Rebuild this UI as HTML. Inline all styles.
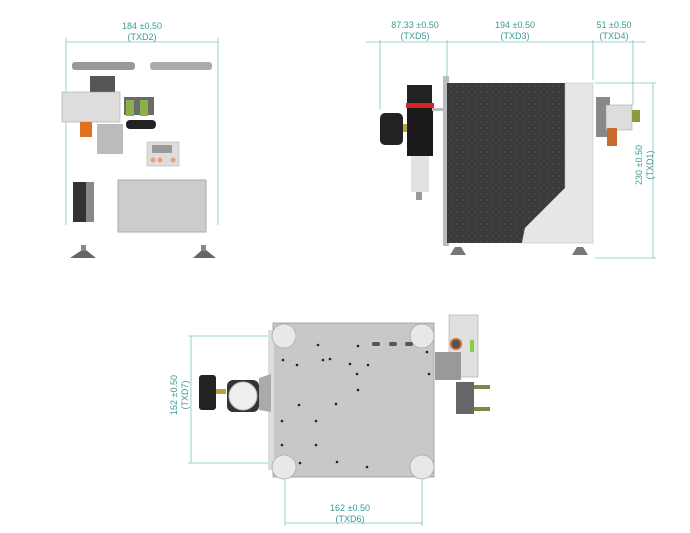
<!DOCTYPE html>
<html><head><style>
html,body{margin:0;padding:0;background:#fff;}
svg{display:block}
text{font-family:"Liberation Sans",sans-serif;fill:#3a9a94;font-size:9px;}
</style></head><body>
<svg width="690" height="533" viewBox="0 0 690 533" xmlns="http://www.w3.org/2000/svg">
<defs>
<pattern id="spk" width="6" height="6" patternUnits="userSpaceOnUse">
<rect width="6" height="6" fill="#3a3a3a"/><circle cx="1" cy="2" r="0.6" fill="#666"/><circle cx="4" cy="5" r="0.5" fill="#555"/>
</pattern>
</defs>
<g stroke="#7cc4bf" stroke-width="0.8" fill="none">
<!-- front view dims -->
<line x1="66" y1="42" x2="218" y2="42"/><line x1="66" y1="38" x2="66" y2="225"/><line x1="218" y1="38" x2="218" y2="225"/>
<!-- side dims -->
<line x1="366" y1="42" x2="646" y2="42"/><line x1="380" y1="40" x2="380" y2="110"/><line x1="447" y1="40" x2="447" y2="80"/><line x1="593" y1="40" x2="593" y2="80"/><line x1="633" y1="40" x2="633" y2="105"/>
<line x1="653" y1="83" x2="653" y2="258"/><line x1="595" y1="83" x2="656" y2="83"/><line x1="595" y1="258" x2="656" y2="258"/>
<!-- bottom dims -->
<line x1="191" y1="336" x2="191" y2="463"/><line x1="188" y1="336" x2="284" y2="336"/><line x1="188" y1="463" x2="284" y2="463"/>
<line x1="285" y1="523" x2="422" y2="523"/><line x1="285" y1="467" x2="285" y2="526"/><line x1="422" y1="467" x2="422" y2="526"/>
</g>
<text x="142" y="29" text-anchor="middle">184 ±0.50</text><text x="142" y="40" text-anchor="middle">(TXD2)</text>
<text x="415" y="28" text-anchor="middle">87.33 ±0.50</text><text x="415" y="39" text-anchor="middle">(TXD5)</text>
<text x="515" y="28" text-anchor="middle">194 ±0.50</text><text x="515" y="39" text-anchor="middle">(TXD3)</text>
<text x="614" y="28" text-anchor="middle">51 ±0.50</text><text x="614" y="39" text-anchor="middle">(TXD4)</text>
<g transform="translate(642,165) rotate(-90)"><text x="0" y="0" text-anchor="middle">230 ±0.50</text><text x="0" y="11" text-anchor="middle">(TXD1)</text></g>
<g transform="translate(177,395) rotate(-90)"><text x="0" y="0" text-anchor="middle">152 ±0.50</text><text x="0" y="11" text-anchor="middle">(TXD7)</text></g>
<text x="350" y="511" text-anchor="middle">162 ±0.50</text><text x="350" y="522" text-anchor="middle">(TXD6)</text>

<!-- FRONT VIEW -->
<rect x="72" y="62" width="63" height="8" rx="3" fill="#999"/><rect x="150" y="62" width="62" height="8" rx="3" fill="#aaa"/>
<rect x="90" y="76" width="25" height="20" fill="#555"/>
<rect x="62" y="92" width="58" height="30" fill="#ddd" stroke="#999" stroke-width="0.5"/>
<rect x="124" y="97" width="30" height="18" fill="#6a6a6a"/>
<rect x="126" y="100" width="8" height="16" fill="#8ab04a"/><rect x="140" y="100" width="8" height="16" fill="#8ab04a"/>
<rect x="126" y="120" width="30" height="9" rx="4" fill="#222"/>
<rect x="80" y="122" width="12" height="15" fill="#e07020"/>
<rect x="97" y="124" width="26" height="30" fill="#bbb"/>
<rect x="147" y="142" width="32" height="24" fill="#ddd" stroke="#aaa" stroke-width="0.5"/>
<rect x="152" y="145" width="20" height="8" fill="#999"/>
<circle cx="153" cy="160" r="2.5" fill="#f09a80"/><circle cx="160" cy="160" r="2.5" fill="#f09a80"/><circle cx="173" cy="160" r="2.5" fill="#f09a80"/>
<rect x="73" y="182" width="20" height="40" fill="#333"/><rect x="86" y="182" width="8" height="40" fill="#888"/>
<rect x="118" y="180" width="88" height="52" fill="#ccc" stroke="#aaa"/>
<path d="M70 258 L82 250 L86 250 L96 258 Z" fill="#666"/><rect x="81" y="245" width="5" height="6" fill="#888"/>
<path d="M193 258 L202 250 L206 250 L216 258 Z" fill="#666"/><rect x="201" y="245" width="5" height="6" fill="#888"/>

<!-- SIDE VIEW -->
<rect x="443" y="76" width="6" height="170" fill="#bbb"/>
<path d="M447 83 L565 83 L565 188 L525 228 L522 243 L447 243 Z" fill="url(#spk)"/>
<path d="M565 83 L593 83 L593 243 L522 243 L525 228 L565 188 Z" fill="#e6e6e6" stroke="#bbb" stroke-width="0.5"/>
<rect x="380" y="113" width="23" height="32" rx="5" fill="#222"/>
<rect x="403" y="124" width="5" height="8" fill="#b9a040"/>
<rect x="407" y="85" width="25" height="18" fill="#222"/>
<rect x="406" y="103" width="28" height="5" fill="#d22"/>
<rect x="407" y="108" width="26" height="48" fill="#1a1a1a"/>
<rect x="411" y="156" width="18" height="36" fill="#e2e2e2"/>
<rect x="416" y="192" width="6" height="8" fill="#999"/>
<rect x="432" y="108" width="15" height="3" fill="#bbb"/>
<rect x="596" y="97" width="14" height="40" fill="#888"/>
<rect x="606" y="105" width="26" height="25" fill="#ddd" stroke="#999" stroke-width="0.5"/>
<rect x="632" y="110" width="8" height="12" fill="#8a9a40"/>
<rect x="607" y="128" width="10" height="18" fill="#c96a30"/>
<path d="M450 255 L455 247 L461 247 L466 255 Z" fill="#777"/>
<path d="M572 255 L577 247 L583 247 L588 255 Z" fill="#777"/>

<!-- BOTTOM VIEW -->
<rect x="273" y="323" width="161" height="154" fill="#c8c8c8" stroke="#999" stroke-width="0.8"/>
<rect x="268" y="330" width="6" height="140" fill="#ddd"/>
<g fill="#e8e8e8" stroke="#aaa" stroke-width="0.8">
<circle cx="284" cy="336" r="12"/><circle cx="422" cy="336" r="12"/><circle cx="284" cy="467" r="12"/><circle cx="422" cy="467" r="12"/></g>
<g fill="#222">
<circle cx="318" cy="345" r="1.3"/><circle cx="358" cy="346" r="1.3"/><circle cx="323" cy="360" r="1.3"/><circle cx="330" cy="359" r="1.3"/><circle cx="283" cy="360" r="1.3"/><circle cx="297" cy="365" r="1.3"/><circle cx="350" cy="364" r="1.3"/><circle cx="368" cy="365" r="1.3"/><circle cx="357" cy="374" r="1.3"/><circle cx="358" cy="390" r="1.3"/><circle cx="299" cy="405" r="1.3"/><circle cx="336" cy="404" r="1.3"/><circle cx="282" cy="421" r="1.3"/><circle cx="316" cy="421" r="1.3"/><circle cx="282" cy="445" r="1.3"/><circle cx="316" cy="445" r="1.3"/><circle cx="300" cy="463" r="1.3"/><circle cx="337" cy="462" r="1.3"/><circle cx="367" cy="467" r="1.3"/><circle cx="427" cy="352" r="1.3"/><circle cx="429" cy="374" r="1.3"/></g>
<rect x="372" y="342" width="8" height="4" rx="2" fill="#555"/><rect x="389" y="342" width="8" height="4" rx="2" fill="#555"/><rect x="405" y="342" width="8" height="4" rx="2" fill="#555"/>
<path d="M259 378 L271 374 L271 412 L259 410 Z" fill="#aaa"/>
<rect x="199" y="375" width="17" height="35" rx="3" fill="#222"/>
<rect x="216" y="389" width="10" height="5" fill="#b9a040"/>
<rect x="227" y="380" width="32" height="32" rx="6" fill="#333"/>
<circle cx="243" cy="396" r="14" fill="#eee" stroke="#bbb"/>
<rect x="449" y="315" width="29" height="62" fill="#e0e0e0" stroke="#999" stroke-width="0.5"/>
<rect x="435" y="352" width="26" height="28" fill="#999"/>
<circle cx="456" cy="344" r="6" fill="#c86a2a"/><circle cx="456" cy="344" r="4" fill="#555"/>
<rect x="470" y="340" width="4" height="12" fill="#8c4"/>
<rect x="456" y="382" width="18" height="32" fill="#666"/>
<rect x="474" y="385" width="16" height="4" fill="#7a8a40"/><rect x="474" y="407" width="16" height="4" fill="#7a8a40"/>
</svg>
</body></html>
